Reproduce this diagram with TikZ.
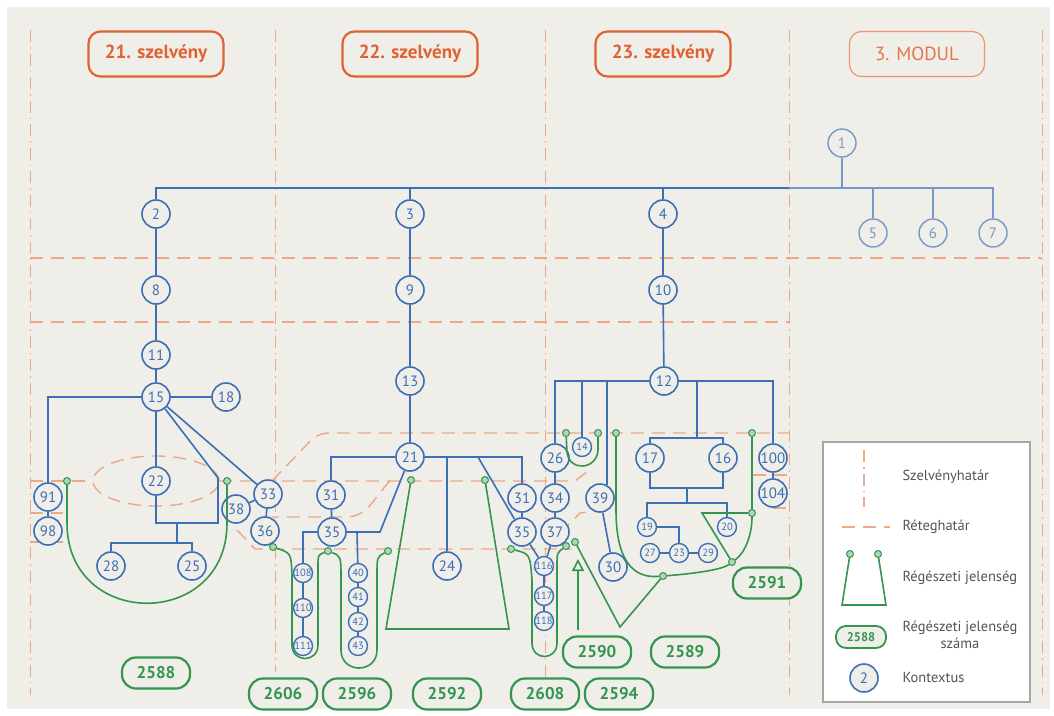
\documentclass[tikz,border=0pt]{standalone}
\usepackage{fontspec}
\setmainfont{PT Sans}
\usetikzlibrary{arrows.meta,calc}
\definecolor{bgc}{RGB}{240,238,233}
\definecolor{ctxblue}{RGB}{60,111,180}
\definecolor{ctxlight}{RGB}{118,152,200}
\definecolor{jgreen}{RGB}{52,150,78}
\definecolor{secorange}{RGB}{224,98,50}
\definecolor{modorange}{RGB}{234,150,112}
\definecolor{modtext}{RGB}{226,118,72}
\definecolor{layerc}{RGB}{236,168,135}
\definecolor{legtext}{RGB}{85,85,85}
\definecolor{legframe}{RGB}{165,165,165}
\tikzset{
ctx/.style={circle,draw=ctxblue,fill=bgc,line width=1.6pt,minimum size=28pt,inner sep=0pt,text=ctxblue,font=\fontsize{15}{15}\selectfont},
ctxs/.style={ctx,minimum size=19pt,line width=1.4pt,font=\fontsize{10.5}{10.5}\selectfont},
ctxl/.style={ctx,draw=ctxlight,text=ctxlight,line width=1.4pt},
edge/.style={ctxblue,line width=1.6pt},
edgel/.style={ctxlight,line width=1.4pt},
jline/.style={jgreen,line width=1.6pt},
gdot/.style={circle,draw=jgreen,fill=jgreen!40,line width=1pt,minimum size=7pt,inner sep=0pt},
jbox/.style={draw=jgreen,line width=2.2pt,rounded corners=14pt,fill=bgc,minimum width=68pt,minimum height=31pt,inner sep=0pt,text=jgreen,font=\fontsize{17}{17}\selectfont\bfseries},
secbox/.style={draw=secorange,line width=2.2pt,rounded corners=12pt,minimum width=135pt,minimum height=45pt,text=secorange,font=\fontsize{19}{19}\selectfont\bfseries},
modbox/.style={secbox,draw=modorange,line width=1.2pt,text=modtext,font=\fontsize{19}{19}\selectfont},
secline/.style={layerc,line width=1pt,dash pattern=on 12pt off 5pt on 1.5pt off 5pt},
layer/.style={layerc,line width=1.4pt,dash pattern=on 13pt off 8pt},
legtxt/.style={text=legtext,font=\fontsize{14.5}{17}\selectfont,align=center}
}
\begin{document}
\begin{tikzpicture}[x=1pt,y=-1pt]
\useasboundingbox (0,0) rectangle (1054,715);
\fill[white] (0,0) rectangle (1054,715);
\fill[bgc] (7,7) rectangle (1050,709);

\draw[secline] (30,30) -- (30,695);
\draw[secline] (275,30) -- (275,672);
\draw[secline] (545,30) -- (545,680);
\draw[secline] (789,30) -- (789,695);
\draw[secline] (1042,30) -- (1042,695);

\draw[layer] (30,258) -- (1042,258);
\draw[layer] (30,322) -- (789,322);
\draw[layer,rounded corners=10pt] (272,481) -- (318,433) -- (789,433);
\draw[layer] (753,475) -- (789,475);
\draw[layer] (773,508) -- (789,508);
\draw[layer] (30,481) -- (93,481);
\draw[layer] (156,481) ellipse [x radius=63pt,y radius=25pt];
\draw[layer] (219,481) -- (575,481) -- (592,468);
\draw[layer] (390,481) .. controls (372,500) and (368,517) .. (345,517) -- (272,517);
\draw[layer] (30,513) -- (63,513);
\draw[layer] (30,542) -- (63,542);
\draw[layer] (237,530) -- (255,549) -- (572,549);
\draw[layer] (560,533) -- (580,513) -- (598,511);

\node[secbox] (t21) at (156,54) {21. szelvény};
\node[secbox] (t22) at (410,54) {22. szelvény};
\node[secbox] (t23) at (663,54) {23. szelvény};
\node[modbox] (tmod) at (917,54) {3. MODUL};

\node[ctxl] (c1) at (842,143) {1};
\node[ctx] (c2) at (156,214) {2};
\node[ctx] (c3) at (410,214) {3};
\node[ctx] (c4) at (663,214) {4};
\node[ctxl] (c5) at (873,233) {5};
\node[ctxl] (c6) at (933,233) {6};
\node[ctxl] (c7) at (993,233) {7};
\node[ctx] (c8) at (156,290) {8};
\node[ctx] (c9) at (410,290) {9};
\node[ctx] (c10) at (663,290) {10};
\node[ctx] (c11) at (156,355) {11};
\node[ctx] (c15) at (156,397) {15};
\node[ctx] (c18) at (226,397) {18};
\node[ctx] (c13) at (410,381) {13};
\node[ctx] (c12) at (664,381) {12};
\node[ctx] (c91) at (48,497) {91};
\node[ctx] (c98) at (48,531) {98};
\node[ctx] (c22) at (156,481) {22};
\node[ctx] (c33) at (268,494) {33};
\node[ctx] (c38) at (236,509) {38};
\node[ctx] (c36) at (265,531) {36};
\node[ctx] (c28) at (111,566) {28};
\node[ctx] (c25) at (192,566) {25};
\node[ctx] (c21) at (410,457) {21};
\node[ctx] (c31a) at (331,495) {31};
\node[ctx] (c35a) at (332,532) {35};
\node[ctxs] (c108) at (303,573) {108};
\node[ctxs] (c110) at (303,608) {110};
\node[ctxs] (c111) at (303,646) {111};
\node[ctxs] (c40) at (358,573) {40};
\node[ctxs] (c41) at (358,597) {41};
\node[ctxs] (c42) at (358,622) {42};
\node[ctxs] (c43) at (358,646) {43};
\node[ctx] (c24) at (447,566) {24};
\node[ctx] (c31b) at (522,498) {31};
\node[ctx] (c35b) at (522,532) {35};
\node[ctxs] (c116) at (544,566) {116};
\node[ctxs] (c117) at (544,596) {117};
\node[ctxs] (c118) at (544,621) {118};
\node[ctx] (c26) at (555,458) {26};
\node[ctx] (c34) at (555,498) {34};
\node[ctx] (c37) at (555,532) {37};
\node[ctxs] (c14) at (582,447) {14};
\node[ctx] (c39) at (600,498) {39};
\node[ctx] (c30) at (613,567) {30};
\node[ctx] (c17) at (650,458) {17};
\node[ctx] (c16) at (723,458) {16};
\node[ctx] (c100) at (773,458) {100};
\node[ctx] (c104) at (773,493) {104};
\node[ctxs] (c19) at (647,527) {19};
\node[ctxs] (c20) at (727,527) {20};
\node[ctxs] (c27) at (650,553) {27};
\node[ctxs] (c23) at (679,553) {23};
\node[ctxs] (c29) at (708,553) {29};

\coordinate (bus1) at (156,188);
\coordinate (bus2) at (789,188);
\draw[edge] (c2) |- (bus2);
\draw[edge] (c3) -- (c3 |- bus1);
\draw[edge] (c4) -- (c4 |- bus1);
\draw[edgel] (bus2) -| (c7);
\draw[edgel] (c1) -- (c1 |- bus1);
\draw[edgel] (c5) -- (c5 |- bus1);
\draw[edgel] (c6) -- (c6 |- bus1);
\draw[edge] (c2) -- (c8) -- (c11) -- (c15);
\draw[edge] (c3) -- (c9) -- (c13) -- (c21);
\draw[edge] (c4) -- (c10) -- (c12);

\coordinate (k1) at (218,478);
\coordinate (k2) at (218,523);
\coordinate (k3) at (177,523);
\coordinate (k4) at (177,543);
\draw[edge] (c15) -- (c18);
\draw[edge] (c15) -| (c91);
\draw[edge] (c15) -- (c22);
\draw[edge] (c15) -- (c33);
\draw[edge] (c15) -- (k1) -- (k2) -| (c22);
\draw[edge] (k3) -- (k4);
\draw[edge] (c28) |- (k4) -| (c25);
\draw[edge] (c91) -- (c98);
\draw[edge] (c33) -- (c36);
\draw[edge] (c38) -- (c33);

\coordinate (k5) at (447,457);
\coordinate (k6) at (478,457);
\coordinate (k7) at (380,532);
\coordinate (k8) at (357,532);
\draw[edge] (c31a) |- (c21) -| (c31b);
\draw[edge] (k5) -- (c24);
\draw[edge] (k6) -- (c35b);
\draw[edge] (c31a) -- (c35a);
\draw[edge] (c35a) -| (c108);
\draw[edge] (c108) -- (c110) -- (c111);
\draw[edge] (c35a) -- (k7) -- (c21);
\draw[edge] (k8) -- (c40) -- (c41) -- (c42) -- (c43);
\draw[edge] (c31b) -- (c35b) -- (c116) -- (c117) -- (c118);
\draw[edge] (c26) -- (c34) -- (c37) -- (c116);

\coordinate (k9) at (582,381);
\coordinate (k10) at (697,381);
\coordinate (k11) at (697,438);
\coordinate (k12) at (687,488);
\coordinate (k13) at (687,503);
\draw[edge] (c26) |- (c12) -| (c100);
\draw[edge] (k9) -- (c14);
\draw[edge] (c39.62) -- (c39.62 |- c12);
\draw[edge] (k10) -- (k11);
\draw[edge] (c17) |- (k11) -| (c16);
\draw[edge] (c17) |- (k12) -| (c16);
\draw[edge] (k12) -- (k13);
\draw[edge] (c19) |- (k13) -| (c20);
\draw[edge] (c19) -| (c23);
\draw[edge] (c27) -- (c23) -- (c29);
\draw[edge] (c39) -- (c30);
\draw[edge] (c100) -- (c104);

\node[gdot] (d1) at (67,481) {};
\node[gdot] (d2) at (227,481) {};
\node[gdot] (d3) at (273,547) {};
\node[gdot] (d4) at (328,551) {};
\node[gdot] (d5) at (388,551) {};
\node[gdot] (d6) at (411,480) {};
\node[gdot] (d7) at (485,480) {};
\node[gdot] (d8) at (511,549) {};
\node[gdot] (d9) at (566,546) {};
\node[gdot] (d10) at (575,542) {};
\node[gdot] (d11) at (566,433) {};
\node[gdot] (d12) at (598,433) {};
\node[gdot] (d13) at (616,433) {};
\node[gdot] (d14) at (752,433) {};
\node[gdot] (d15) at (752,513) {};
\node[gdot] (d16) at (732,562) {};
\node[gdot] (d17) at (663,576) {};

\draw[jline] (d1) -- (67,523) .. controls (67,630) and (227,630) .. (227,523) -- (d2);
\draw[jline] (d3) .. controls (291,553) .. (292,575) -- (292,645) .. controls (292,663) and (318,663) .. (318,645) -- (318,566) .. controls (318,555) .. (d4);
\draw[jline] (d4) .. controls (341,556) .. (341,580) -- (341,650) .. controls (341,674) and (377,674) .. (377,650) -- (377,575) .. controls (377,557) .. (d5);
\draw[jline] (d6) -- (386,629) -- (509,629) -- (d7);
\draw[jline] (d8) .. controls (530,554) .. (532,580) -- (532,643) .. controls (532,661) and (557,661) .. (557,643) -- (557,566) .. controls (557,553) .. (d9);
\draw[jline] (d11) -- (567,452) .. controls (569,472) and (597,470) .. (598,450) -- (d12);
\draw[jline] (d13) -- (616,510) .. controls (616,570) and (640,578) .. (d17) .. controls (690,574) and (722,570) .. (d16) .. controls (745,553) and (752,535) .. (d15) -- (d14);
\draw[jline] (d15) -- (702,513) -- (d16);
\draw[jline] (d10) -- (620,627) -- (d17);
\coordinate (a1) at (578,630);
\coordinate (a2) at (578,559);
\draw[jline,-{Triangle[open,length=12pt,width=12pt]}] (a1) -- (a2);

\node[jbox] (b2588) at (156,673) {2588};
\node[jbox] (b2606) at (283,694) {2606};
\node[jbox] (b2596) at (357,694) {2596};
\node[jbox] (b2592) at (447,694) {2592};
\node[jbox] (b2608) at (545,694) {2608};
\node[jbox] (b2594) at (619,694) {2594};
\node[jbox] (b2590) at (597,652) {2590};
\node[jbox] (b2589) at (685,652) {2589};
\node[jbox] (b2591) at (767,583) {2591};

\node[draw=legframe,line width=1.2pt,fill=white,minimum width=207pt,minimum height=260pt] (leg) at (926.5,572) {};
\draw[secline,line width=1.4pt] (864,450) -- (864,507);
\node[legtxt,anchor=west] (l1) at (899,477) {Szelvényhatár};
\draw[layer] (842,527) -- (890,527);
\node[legtxt,anchor=west] (l2) at (899,527) {Réteghatár};
\node[gdot] (ld1) at (850,554) {};
\node[gdot] (ld2) at (878,554) {};
\draw[jline] (ld1) -- (842,605) -- (886,605) -- (ld2);
\node[legtxt,anchor=west] (l3) at (899,578) {Régészeti jelenség};
\node[jbox,minimum width=50pt,minimum height=22pt,rounded corners=10pt,line width=1.8pt,font=\fontsize{12.5}{12.5}\selectfont\bfseries] (lb) at (861,637) {2588};
\node[legtxt] (l4) at (960,635) {Régészeti jelenség\\száma};
\node[ctx] (lc) at (864,678) {2};
\node[legtxt,anchor=west] (l5) at (899,678) {Kontextus};
\end{tikzpicture}
\end{document}
